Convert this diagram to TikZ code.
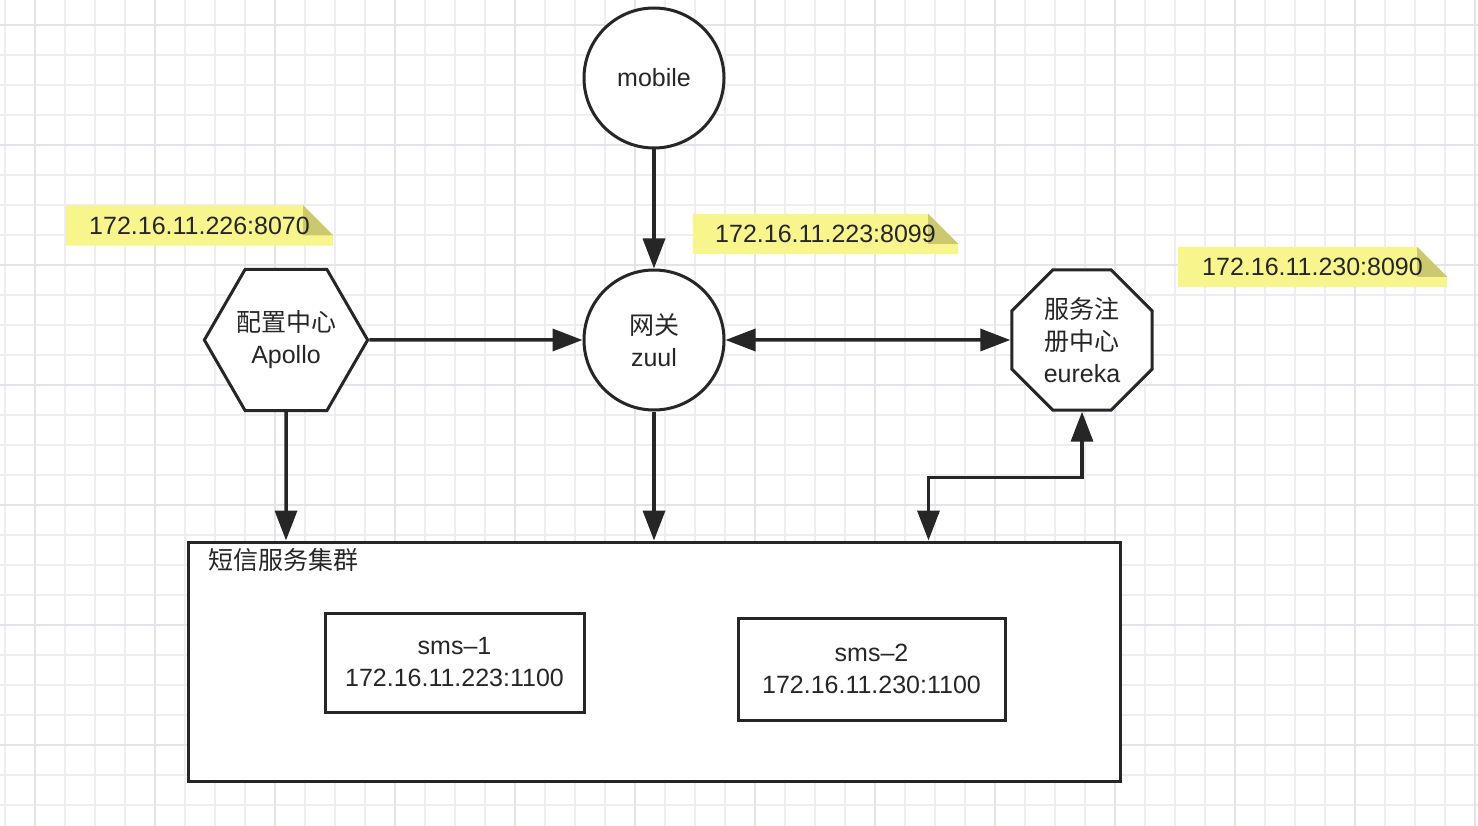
\documentclass[tikz,border=0pt]{standalone}
\usepackage{fontspec}
\setmainfont{Liberation Sans}
\newfontfamily\cjk{Noto Sans CJK SC}
\usetikzlibrary{positioning,arrows.meta,calc,shapes.geometric,backgrounds}
\definecolor{gridln}{RGB}{239,237,241}
\definecolor{gridmaj}{RGB}{229,227,233}
\definecolor{ink}{RGB}{38,38,38}
\definecolor{notefill}{RGB}{248,245,140}
\definecolor{notefold}{RGB}{204,200,112}

\begin{document}
\begin{tikzpicture}[x=1pt, y=-1pt,
  every node/.style={font=\fontsize{25}{32}\selectfont, text=ink},
  line/.style={line width=3.5pt, draw=ink},
  flow/.style={line, -{Triangle[length=30pt, width=22pt]}},
  flowboth/.style={line, {Triangle[length=30pt, width=22pt]}-{Triangle[length=30pt, width=22pt]}},
  ball/.style={circle, draw=ink, line width=3pt, fill=white, minimum size=140pt, inner sep=0pt, align=center},
  poly/.style={regular polygon, draw=ink, line width=3pt, fill=white, inner sep=0pt, align=center},
  srv/.style={draw=ink, line width=3pt, fill=white, align=center},
  note/.style={minimum height=40pt, inner sep=0pt}
]
\useasboundingbox (0,0) rectangle (1478,826);
% Grid paper
\begin{scope}[on background layer]
\fill[white] (0,0) rectangle (1478,826);
\foreach \gx in {5,35,...,1475} \draw[gridln, line width=1.5pt] (\gx,0) -- (\gx,826);
\foreach \gy in {25,55,...,805} \draw[gridln, line width=1.5pt] (0,\gy) -- (1478,\gy);
\foreach \gx in {35,155,...,1475} \draw[gridmaj, line width=1.5pt] (\gx,0) -- (\gx,826);
\foreach \gy in {25,145,...,745} \draw[gridmaj, line width=1.5pt] (0,\gy) -- (1478,\gy);
\end{scope}
% Services
\node[ball] (mobile) at (654,78) {mobile};
\node[ball] (zuul) at (654,340) {{\cjk 网关}\\zuul};
\node[poly, regular polygon sides=6, minimum size=162pt] (apollo) at (286,340) {{\cjk 配置中心}\\Apollo};
\node[poly, regular polygon sides=8, minimum size=152pt] (eureka) at (1082,340) {{\cjk 服务注}\\{\cjk 册中心}\\eureka};
% SMS cluster
\node[srv, minimum width=932pt, minimum height=239pt] (cluster) at (654,661.5) {};
\node[anchor=west, inner sep=0pt] (clustertitle) at (208,560) {\cjk 短信服务集群};
\node[srv, minimum width=259pt, minimum height=99pt] (sms1) at (454.5,662.5) {sms–1\\172.16.11.223:1100};
\node[srv, minimum width=267pt, minimum height=102pt] (sms2) at (871.5,669) {sms–2\\172.16.11.230:1100};
% Address notes
\foreach \nm/\cx/\cy/\nw/\addr in {noteapollo/199.5/225.5/267/172.16.11.226:8070,
    notezuul/825.5/234/265/172.16.11.223:8099, noteeureka/1312.5/267/269/172.16.11.230:8090} {
  \node[note, minimum width=\nw pt] (\nm) at (\cx,\cy) {\addr};
  \begin{scope}[on background layer]
  \fill[notefill] (\nm.south west) |- ($(\nm.north east)+(-30,0)$) -- ($(\nm.north east)+(0,30)$) -- (\nm.south east) -- cycle;
  \fill[notefold] ($(\nm.north east)+(-30,0)$) -- ($(\nm.north east)+(-30,30)$) -- ($(\nm.north east)+(0,30)$) -- cycle;
  \end{scope}
}
% Connectors
\path (cluster.north west) ++(742,0) coordinate (regport);
\draw[flow] (mobile) -- (zuul);
\draw[flow] (apollo) -- (zuul);
\draw[flowboth] (zuul) -- (eureka);
\draw[flow] (apollo) -- (apollo |- cluster.north);
\draw[flow] (zuul) -- (zuul |- cluster.north);
\draw[flowboth] (eureka.south) -- ++(0,66) -| (regport);
\end{tikzpicture}
\end{document}
